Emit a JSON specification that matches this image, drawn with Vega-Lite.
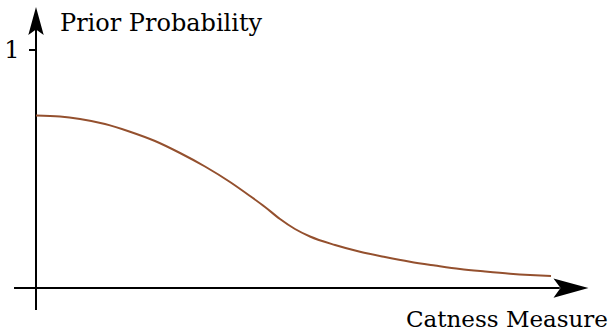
{
  "$schema": "https://vega.github.io/schema/vega-lite/v6.json",
  "width": 612,
  "height": 332,
  "autosize": {"type": "none"},
  "padding": 0,
  "background": "white",
  "config": {"view": {"stroke": null}},
  "datasets": {
    "curve": [
      {"x": 0.0, "p": 0.7248}, {"x": 0.0465, "p": 0.7206}, {"x": 0.0853, "p": 0.7101},
      {"x": 0.1337, "p": 0.6891}, {"x": 0.1822, "p": 0.6567}, {"x": 0.2306, "p": 0.6176},
      {"x": 0.2791, "p": 0.5672}, {"x": 0.3275, "p": 0.5105}, {"x": 0.376, "p": 0.4454},
      {"x": 0.4147, "p": 0.3866}, {"x": 0.4438, "p": 0.3403}, {"x": 0.4729, "p": 0.2899},
      {"x": 0.5019, "p": 0.2479}, {"x": 0.531, "p": 0.2164}, {"x": 0.5795, "p": 0.1807},
      {"x": 0.6279, "p": 0.1525}, {"x": 0.6764, "p": 0.1303}, {"x": 0.7248, "p": 0.1105},
      {"x": 0.7733, "p": 0.0945}, {"x": 0.8217, "p": 0.0798}, {"x": 0.8702, "p": 0.0693},
      {"x": 0.9186, "p": 0.0601}, {"x": 0.9574, "p": 0.0546}, {"x": 0.9981, "p": 0.0504}
    ],
    "axes": [
      {"x": 0, "x2": 0, "y": -0.0924, "y2": 1.09},
      {"x": -0.0426, "x2": 1.015, "y": 0, "y2": 0},
      {"x": -0.0136, "x2": 0, "y": 1, "y2": 1}
    ]
  },
  "layer": [
    {
      "data": {"name": "axes"},
      "mark": {"type": "rule", "color": "black", "strokeWidth": 2},
      "encoding": {
        "x": {"field": "x", "type": "quantitative", "scale": {"domain": [-0.06977, 1.11628], "nice": false, "zero": false}, "axis": null},
        "x2": {"field": "x2"},
        "y": {"field": "y", "type": "quantitative", "scale": {"domain": [-0.18487, 1.21008], "nice": false, "zero": false}, "axis": null},
        "y2": {"field": "y2"}
      }
    },
    {
      "data": {"name": "curve"},
      "mark": {"type": "line", "color": "#94502E", "strokeWidth": 2, "interpolate": "monotone"},
      "encoding": {
        "x": {"field": "x", "type": "quantitative"},
        "y": {"field": "p", "type": "quantitative"}
      }
    },
    {
      "data": {"values": [{"x": 0, "y": 1.1218}]},
      "mark": {"type": "point", "filled": true, "color": "black", "opacity": 1, "size": 784,
               "shape": "M0,-1 L0.55,1 L0,0.6 L-0.55,1 Z"},
      "encoding": {
        "x": {"field": "x", "type": "quantitative"},
        "y": {"field": "y", "type": "quantitative"}
      }
    },
    {
      "data": {"values": [{"x": 1.0368, "y": 0}]},
      "mark": {"type": "point", "filled": true, "color": "black", "opacity": 1, "size": 1225,
               "shape": "M1,0 L-1,-0.55 L-0.6,0 L-1,0.55 Z"},
      "encoding": {
        "x": {"field": "x", "type": "quantitative"},
        "y": {"field": "y", "type": "quantitative"}
      }
    },
    {
      "data": {"values": [{"x": 0.0465, "y": 1.0798, "t": "Prior Probability"}]},
      "mark": {"type": "text", "font": "DejaVu Serif", "fontSize": 24, "color": "black", "baseline": "alphabetic", "align": "left"},
      "encoding": {
        "x": {"field": "x", "type": "quantitative"},
        "y": {"field": "y", "type": "quantitative"},
        "text": {"field": "t"}
      }
    },
    {
      "data": {"values": [{"x": 1.1085, "y": -0.1639, "t": "Catness Measure"}]},
      "mark": {"type": "text", "font": "DejaVu Serif", "fontSize": 23, "color": "black", "baseline": "alphabetic", "align": "right"},
      "encoding": {
        "x": {"field": "x", "type": "quantitative"},
        "y": {"field": "y", "type": "quantitative"},
        "text": {"field": "t"}
      }
    },
    {
      "data": {"values": [{"x": -0.0465, "y": 0.9664, "t": "1"}]},
      "mark": {"type": "text", "font": "DejaVu Serif", "fontSize": 24, "color": "black", "baseline": "alphabetic", "align": "center"},
      "encoding": {
        "x": {"field": "x", "type": "quantitative"},
        "y": {"field": "y", "type": "quantitative"},
        "text": {"field": "t"}
      }
    }
  ]
}
